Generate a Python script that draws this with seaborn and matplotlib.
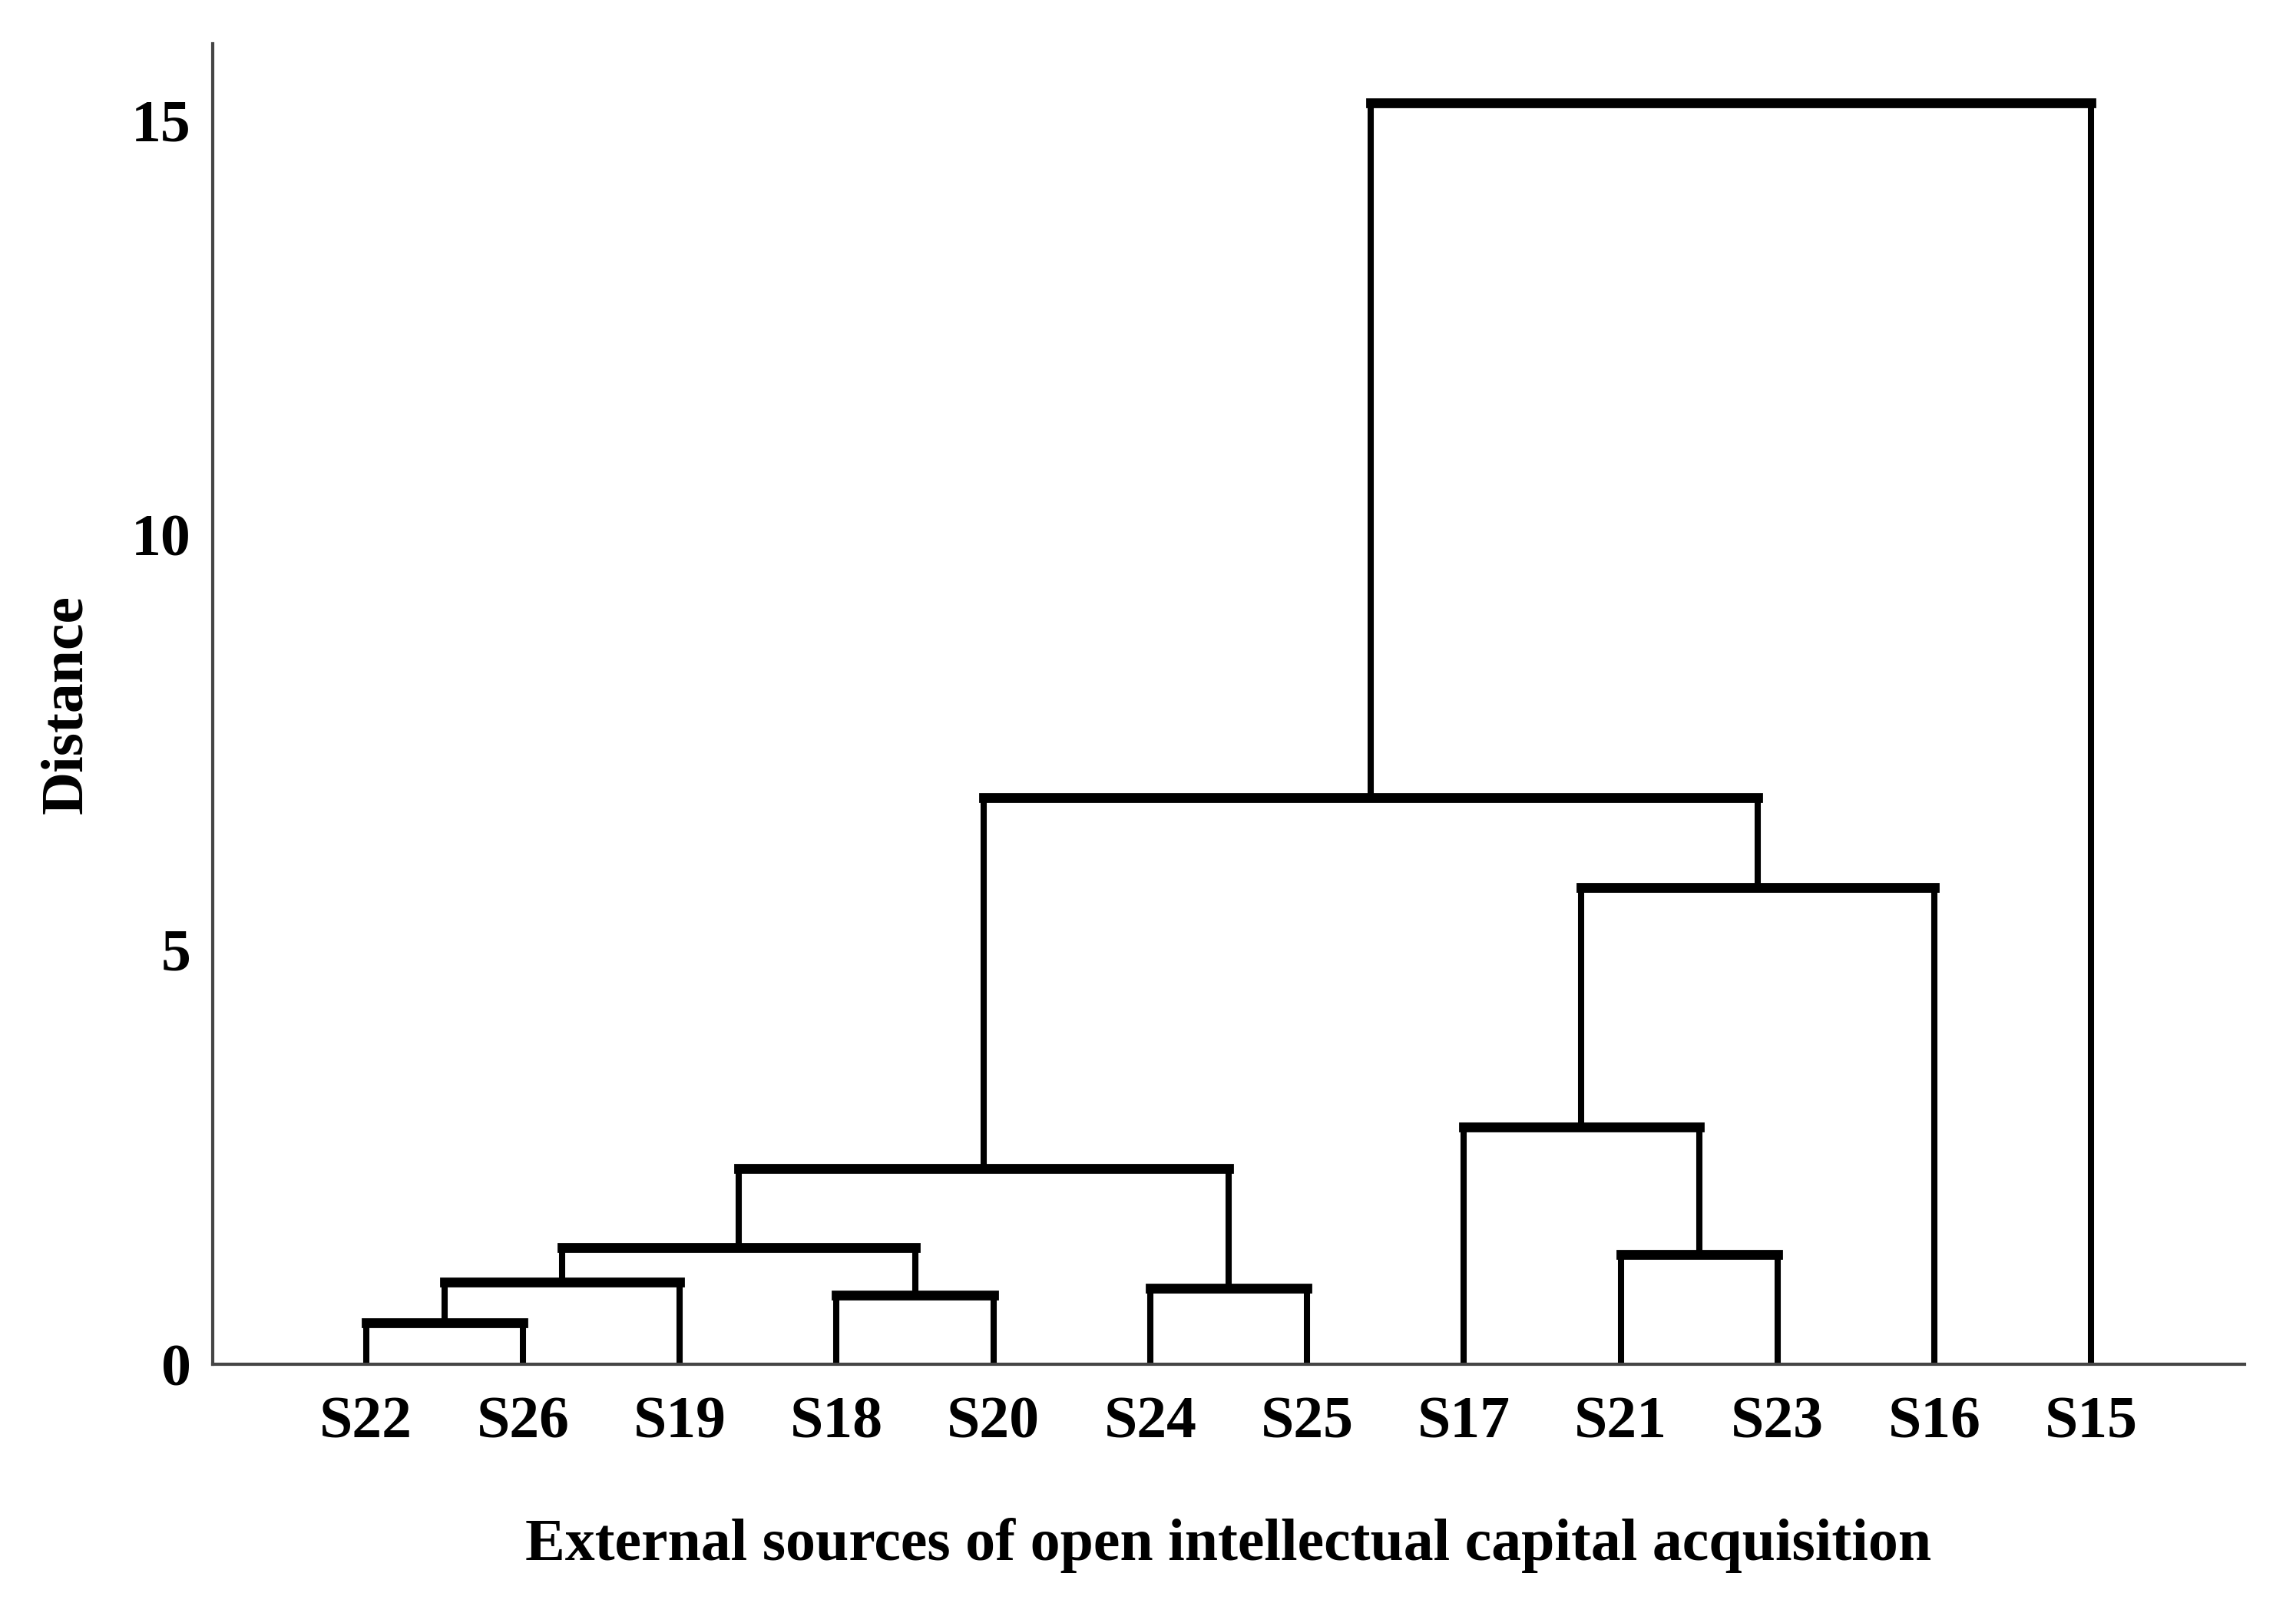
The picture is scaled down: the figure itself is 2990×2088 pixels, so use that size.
import pandas as pd
import matplotlib
matplotlib.use("Agg")
import matplotlib.pyplot as plt
import seaborn as sns

# leaf order along the x axis
leaves = ["S22", "S26", "S19", "S18", "S20", "S24", "S25",
          "S17", "S21", "S23", "S16", "S15"]

# merges: new node = left + right at height
merge_node = ["C1", "C2", "C3", "C4", "C5", "C6", "C7", "C8", "C9", "C10", "C11"]
merge_left = ["S22", "C1", "S18", "C2", "S24", "C4", "S21", "S17", "C8", "C6", "C10"]
merge_right = ["S26", "S19", "S20", "C3", "S25", "C5", "S23", "C7", "S16", "C9", "S15"]
merge_height = [0.50, 0.99, 0.83, 1.41, 0.92, 2.36, 1.32, 2.86, 5.75, 6.83, 15.21]

y_ticks = [0, 5, 10, 15]


def dendrogram_segments():
    """Build vertical and horizontal segments of the dendrogram."""
    pos = {name: i for i, name in enumerate(leaves)}
    hgt = {name: 0.0 for name in leaves}
    vert, horiz = [], []
    for node, a, b, h in zip(merge_node, merge_left, merge_right, merge_height):
        for child in (a, b):
            vert.append({"seg": f"{node}_{child}", "x": pos[child], "y": hgt[child]})
            vert.append({"seg": f"{node}_{child}", "x": pos[child], "y": h})
        horiz.append({"seg": node, "x": pos[a], "y": h})
        horiz.append({"seg": node, "x": pos[b], "y": h})
        pos[node] = (pos[a] + pos[b]) / 2
        hgt[node] = h
    return pd.DataFrame(vert), pd.DataFrame(horiz)


sns.set_style("white")
plt.rcParams["font.family"] = ["Liberation Serif", "DejaVu Serif"]
plt.rcParams["font.weight"] = "bold"
plt.rcParams["text.color"] = "black"
plt.rcParams["axes.labelcolor"] = "black"

fig = plt.figure(figsize=(14.95, 10.44), dpi=200)
ax = fig.add_axes([0.0925, 0.1489, 0.8852, 0.8237])

vert_df, horiz_df = dendrogram_segments()
sns.lineplot(data=vert_df, x="x", y="y", units="seg", estimator=None, sort=False,
             color="black", linewidth=2.9, ax=ax, solid_capstyle="butt")
sns.lineplot(data=horiz_df, x="x", y="y", units="seg", estimator=None, sort=False,
             color="black", linewidth=4.6, ax=ax, solid_capstyle="projecting")

ax.set_xlim(-0.98, 11.98)
ax.set_ylim(0, 15.92)
ax.set_xticks(range(len(leaves)))
ax.set_xticklabels(leaves)
ax.set_yticks(y_ticks)

for side in ["top", "right"]:
    ax.spines[side].set_visible(False)
for side in ["left", "bottom"]:
    ax.spines[side].set_color("#454545")
    ax.spines[side].set_linewidth(1.5)

ax.tick_params(axis="y", direction="in", length=9.5, width=1.5, color="#454545",
               labelcolor="black", labelsize=28, pad=10)
ax.tick_params(axis="x", length=0, labelcolor="black", labelsize=28, pad=15)
for lab in ax.get_xticklabels() + ax.get_yticklabels():
    lab.set_fontweight("bold")

ax.set_xlabel("External sources of open intellectual capital acquisition",
              fontsize=28, fontweight="bold")
ax.set_ylabel("Distance", fontsize=28, fontweight="bold")
ax.xaxis.set_label_coords(0.5, -0.116)
ax.yaxis.set_label_coords(-0.058, 0.5)
ax.grid(False)

fig.savefig("out.png", dpi=200, facecolor="white")
